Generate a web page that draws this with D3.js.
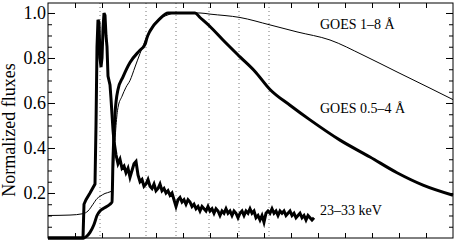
<!DOCTYPE html>
<html><head><meta charset="utf-8">
<script src="https://cdn.jsdelivr.net/npm/d3@7"></script>
<style>
body{margin:0;background:#fff}
svg{display:block}
text{font-family:"Liberation Serif","Times New Roman",serif;fill:#000}
</style>
</head><body><svg id="c" width="455" height="241"></svg>
<script>
// time in seconds from start of plot window
const goesLongT = [0,44,70,80,90,98,104,114,124,128,132,136,140,148,156,164,174,184,198,210,224,238,254,304,324,384,444,498,564,630,698,764,810];
const goesLongV = [0.100,0.102,0.108,0.12,0.15,0.175,0.185,0.198,0.205,0.21,0.35,0.50,0.58,0.63,0.67,0.70,0.76,0.82,0.895,0.945,0.975,0.99,1.0,1.0,0.995,0.98,0.947,0.916,0.88,0.813,0.738,0.666,0.615];

const goesShortT = [0,70,76,84,92,98,104,110,124,128,130,134,140,150,164,184,194,198,204,224,240,294,304,324,350,384,414,444,484,524,584,644,698,750,810];
const goesShortV = [0,0,0.005,0.025,0.06,0.10,0.12,0.13,0.15,0.16,0.35,0.55,0.66,0.716,0.78,0.835,0.86,0.89,0.92,0.975,1.0,1.0,0.98,0.94,0.88,0.805,0.74,0.66,0.59,0.525,0.435,0.36,0.29,0.235,0.19];

const hxrHeadT = [0,70,72,76,84,94,96,98,100,102,104,106,108,110,112,114,116,118,120,122,124,126,128,130,132];
const hxrHeadV = [0,0,0.15,0.17,0.20,0.24,0.5,0.85,0.97,0.96,0.80,0.76,0.80,0.93,1.0,0.99,0.90,0.85,0.72,0.70,0.68,0.62,0.55,0.48,0.43];
const hxrTailStart = 136, hxrCadence = 4;
const hxrTailV = [0.37,0.33,0.35,0.31,0.32,0.29,0.31,0.27,0.30,0.33,0.34,0.28,0.25,0.26,0.23,0.24,0.26,0.23,0.22,0.24,
0.21,0.22,0.24,0.21,0.22,0.20,0.21,0.19,0.20,0.17,0.14,0.17,0.18,0.16,0.17,0.15,0.17,0.16,0.14,0.15,
0.13,0.14,0.12,0.14,0.13,0.12,0.14,0.12,0.13,0.11,0.13,0.12,0.10,0.12,0.11,0.13,0.11,0.12,0.10,0.12,
0.11,0.09,0.11,0.12,0.10,0.12,0.11,0.13,0.11,0.12,0.09,0.10,0.08,0.10,0.07,0.11,0.12,0.11,0.13,0.11,
0.12,0.10,0.12,0.11,0.12,0.10,0.11,0.12,0.10,0.11,0.09,0.10,0.11,0.09,0.10,0.08,0.10,0.09,0.08,0.09];

const eventTimes = [104,196,256,322,382,442];
const yTickLabels = [0.2,0.4,0.6,0.8,1.0];
const labels = [
  {text:"GOES 1\u20138 \u00C5", t:544, v:0.93},
  {text:"GOES 0.5\u20134 \u00C5", t:544, v:0.556},
  {text:"23\u201333 keV", t:544, v:0.10}
];

const svg = d3.select("#c");
const L=48, R=453, T=3, B=238;
const x = d3.scaleLinear().domain([0,810]).range([L,R]);
const y = d3.scaleLinear().domain([0,1.0444]).range([B,T]);

// dotted event lines
svg.selectAll("line.ev").data(eventTimes).enter().append("line")
  .attr("x1",d=>x(d)).attr("x2",d=>x(d)).attr("y1",T).attr("y2",B)
  .attr("stroke","#777").attr("stroke-width",1).attr("stroke-dasharray","1 3");

const line = d3.line().x(d=>x(d[0])).y(d=>y(d[1]));
const zip=(a,b)=>a.map((t,i)=>[t,b[i]]);

svg.append("path").datum(zip(goesLongT,goesLongV))
  .attr("d",line.curve(d3.curveMonotoneX)).attr("fill","none").attr("stroke","#000").attr("stroke-width",1);
svg.append("path").datum(zip(goesShortT,goesShortV))
  .attr("d",line.curve(d3.curveMonotoneX)).attr("fill","none").attr("stroke","#000").attr("stroke-width",3);

const hxr = zip(hxrHeadT,hxrHeadV).concat(hxrTailV.map((v,i)=>[hxrTailStart+i*hxrCadence,v]));
svg.append("path").datum(hxr)
  .attr("d",d3.line().x(d=>x(d[0])).y(d=>y(d[1])).curve(d3.curveLinear)).attr("fill","none").attr("stroke","#000").attr("stroke-width",3);

// frame
svg.append("rect").attr("x",L).attr("y",T).attr("width",R-L).attr("height",B-T)
  .attr("fill","none").attr("stroke","#000").attr("stroke-width",1);

// y axes (inward ticks)
const yMinor = d3.range(0.05,1.04,0.05);
const yAxL = d3.axisRight(y).tickValues(yTickLabels).tickSize(7).tickFormat("");
const yAxLm = d3.axisRight(y).tickValues(yMinor).tickSize(4).tickFormat("");
[yAxL,yAxLm].forEach(a=>{const g=svg.append("g").attr("transform",`translate(${L},0)`).call(a);g.select(".domain").remove();});
const yAxR = d3.axisLeft(y).tickValues(yTickLabels).tickSize(7).tickFormat("");
const yAxRm = d3.axisLeft(y).tickValues(yMinor).tickSize(4).tickFormat("");
[yAxR,yAxRm].forEach(a=>{const g=svg.append("g").attr("transform",`translate(${R},0)`).call(a);g.select(".domain").remove();});

// x ticks top & bottom
const xT = d3.range(54,810,54);
const xb = d3.axisTop(x).tickValues(xT).tickSize(5).tickFormat("");
const gxb=svg.append("g").attr("transform",`translate(0,${B})`).call(xb); gxb.select(".domain").remove();
const xt = d3.axisBottom(x).tickValues(xT).tickSize(5).tickFormat("");
const gxt=svg.append("g").attr("transform",`translate(0,${T})`).call(xt); gxt.select(".domain").remove();

// tick labels
svg.selectAll("text.yl").data(yTickLabels).enter().append("text")
  .attr("x",46).attr("y",d=>y(d)+6).attr("text-anchor","end")
  .attr("font-size",18).text(d=>d3.format(".1f")(d));

svg.append("text").attr("transform","translate(15,130) rotate(-90)")
  .attr("text-anchor","middle").attr("font-size",18).text("Normalized fluxes");

svg.selectAll("text.lab").data(labels).enter().append("text")
  .attr("x",d=>x(d.t)).attr("y",d=>y(d.v)).attr("font-size",14).text(d=>d.text);
</script></body></html>
